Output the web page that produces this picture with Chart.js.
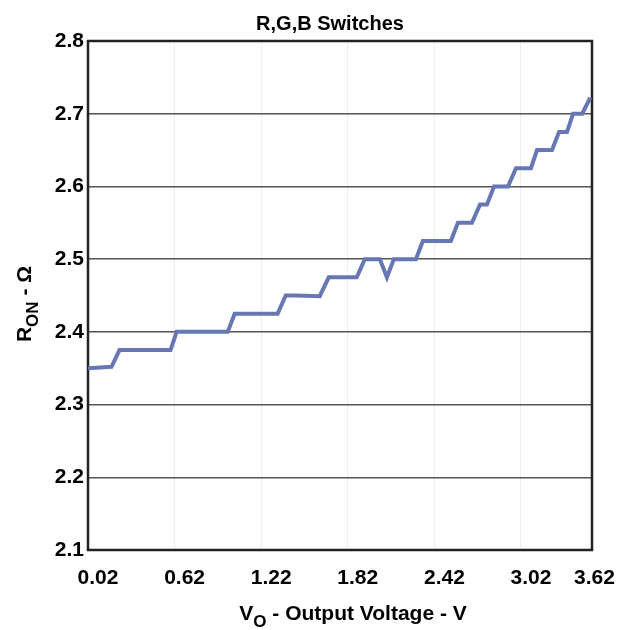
<!DOCTYPE html>
<html>
<head>
<meta charset="utf-8">
<script src="https://cdn.jsdelivr.net/npm/chart.js@4.4.1/dist/chart.umd.min.js"></script>
<style>
  html, body { margin: 0; padding: 0; background: #ffffff; }
  #wrap { width: 627px; height: 630px; position: relative; }
</style>
</head>
<body>
<div id="wrap"><canvas id="c" width="627" height="630"></canvas></div>
<script>
// ---- Data ----
const chartTitle = 'R,G,B Switches';
const xVoltage = [0.02, 0.183, 0.238, 0.592, 0.634, 0.988, 1.036, 1.334, 1.390, 1.466, 1.626, 1.688,
                  1.882, 1.938, 2.042, 2.091, 2.139, 2.292, 2.340, 2.534, 2.583, 2.680, 2.736, 2.784,
                  2.833, 2.930, 2.985, 3.089, 3.131, 3.235, 3.284, 3.339, 3.381, 3.444, 3.50];
const rOn = [2.350, 2.352, 2.375, 2.375, 2.400, 2.400, 2.425, 2.425, 2.450, 2.450, 2.449, 2.475,
             2.475, 2.500, 2.500, 2.475, 2.500, 2.500, 2.525, 2.525, 2.550, 2.550, 2.575, 2.575,
             2.600, 2.600, 2.625, 2.625, 2.650, 2.650, 2.675, 2.675, 2.700, 2.700, 2.722];
const xTickValues = [0.02, 0.62, 1.22, 1.82, 2.42, 3.02, 3.46];
const xTickLabels = ['0.02', '0.62', '1.22', '1.82', '2.42', '3.02', '3.62'];
const yMin = 2.1, yMax = 2.8, yStep = 0.1;
const xMin = 0.02, xMax = 3.512;

const FONT = '"Liberation Sans", Arial, Helvetica, sans-serif';

const decorPlugin = {
  id: 'decor',
  beforeDatasetsDraw(chart) {
    const { ctx, chartArea: a } = chart;
    ctx.save();
    ctx.strokeStyle = '#222222';
    ctx.lineWidth = 2.5;
    ctx.strokeRect(a.left, a.top, a.right - a.left, a.bottom - a.top);
    ctx.restore();
  },
  afterDraw(chart) {
    const { ctx } = chart;
    ctx.save();
    ctx.fillStyle = '#000000';
    ctx.textBaseline = 'alphabetic';
    // Title
    ctx.font = 'bold 20px ' + FONT;
    ctx.textAlign = 'center';
    ctx.fillText(chartTitle, 330, 30);

    const drawSubTitle = (main, sub, rest, cx, baseY) => {
      ctx.textAlign = 'left';
      ctx.font = 'bold 21px ' + FONT;
      const w1 = ctx.measureText(main).width;
      const w3 = ctx.measureText(rest).width;
      ctx.font = 'bold 17px ' + FONT;
      const w2 = ctx.measureText(sub).width;
      let x = cx - (w1 + w2 + w3) / 2;
      ctx.font = 'bold 21px ' + FONT;
      ctx.fillText(main, x, baseY);
      x += w1;
      ctx.font = 'bold 17px ' + FONT;
      ctx.fillText(sub, x, baseY + 7);
      x += w2;
      ctx.font = 'bold 21px ' + FONT;
      ctx.fillText(rest, x, baseY);
    };
    // X axis title with subscript
    drawSubTitle('V', 'O', ' - Output Voltage - V', 353, 620);

    // Y axis title (rotated)
    ctx.save();
    ctx.translate(31, 304);
    ctx.rotate(-Math.PI / 2);
    drawSubTitle('R', 'ON', ' - \u03A9', 0, 0);
    ctx.restore();

    ctx.restore();
  }
};

new Chart(document.getElementById('c'), {
  type: 'line',
  data: {
    datasets: [{
      data: xVoltage.map((x, i) => ({ x: x, y: rOn[i] })),
      borderColor: '#6677b3',
      borderWidth: 4,
      pointRadius: 0,
      tension: 0,
      fill: false
    }]
  },
  options: {
    responsive: false,
    animation: false,
    layout: { padding: { top: 41, right: 35, bottom: 0, left: 0 } },
    plugins: { legend: { display: false }, title: { display: false }, tooltip: { enabled: false } },
    scales: {
      x: {
        type: 'linear',
        min: xMin,
        max: xMax,
        afterBuildTicks: (s) => { s.ticks = xTickValues.map(v => ({ value: v })); },
        afterFit: (s) => { s.height = 80; },
        grid: {
          drawTicks: false,
          color: (c) => (c.index === xTickValues.length - 1 ? 'rgba(0,0,0,0)' : '#eeeeee'),
          lineWidth: 1
        },
        border: { display: false },
        ticks: {
          callback: (v, i) => xTickLabels[i],
          autoSkip: false,
          maxRotation: 0,
          minRotation: 0,
          labelOffset: 10,
          padding: 16,
          color: '#000000',
          font: { family: FONT, size: 21, weight: 'bold' }
        }
      },
      y: {
        type: 'linear',
        min: yMin,
        max: yMax,
        afterFit: (s) => { s.width = 88; },
        grid: { drawTicks: false, color: '#555555', lineWidth: 1.5 },
        border: { display: false },
        ticks: {
          stepSize: yStep,
          padding: 4,
          color: '#000000',
          callback: (v) => v.toFixed(1),
          font: { family: FONT, size: 21, weight: 'bold' }
        }
      }
    }
  },
  plugins: [decorPlugin]
});
</script>
</body>
</html>
